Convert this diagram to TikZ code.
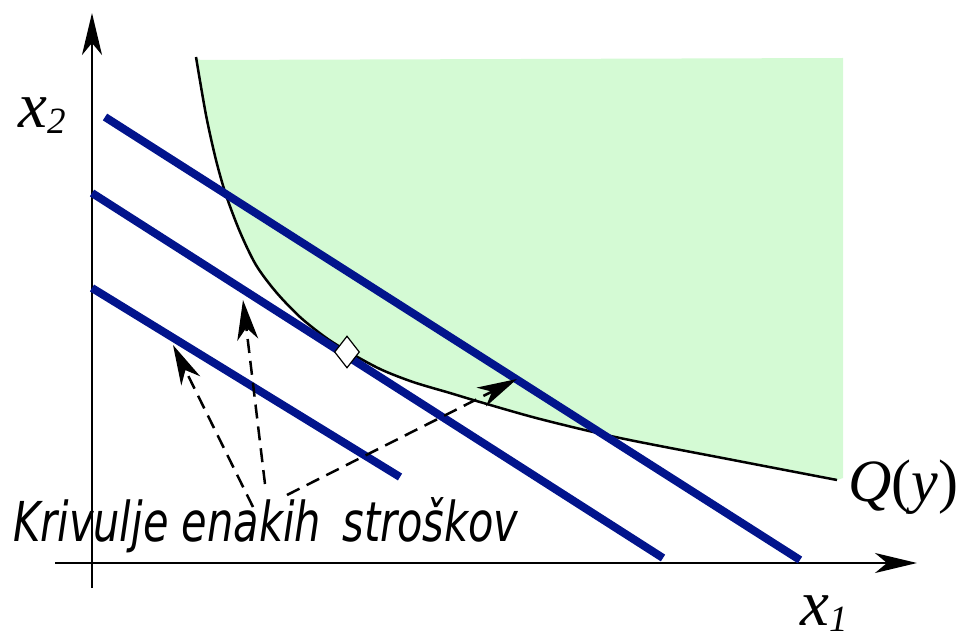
\documentclass[tikz,border=0pt]{standalone}
\usepackage{fontspec}
\setmainfont{Liberation Serif}
\newfontfamily\notefont{DejaVu Sans}
\usepackage{tikz}
\usetikzlibrary{arrows.meta, positioning, shapes.geometric}
\definecolor{costblue}{RGB}{2,20,140}
\definecolor{setgreen}{RGB}{212,250,212}
\newcommand\varsub[2]{\textit{#1}\raisebox{-6pt}{\fontsize{37}{40}\selectfont\textit{#2}}}
\newcommand\isoquant{plot[smooth] coordinates {(196,57) (206,115) (216,160) (226,195)
    (240,232) (256,265) (276,292) (300,317) (325,337) (347,351) (380,369) (413,382)
    (450,393) (480,402) (540,419) (620,438) (733,460) (837,480)}}

\begin{document}
\begin{tikzpicture}[x=1pt, y=-1pt,
    axis/.style={line width=2.5pt, -{Stealth[length=42pt, width=20pt, inset=12pt]}},
    isocost/.style={costblue, line width=8pt},
    pointer/.style={line width=2.5pt, dash pattern=on 14pt off 8pt,
        -{Stealth[length=40pt, width=21pt, inset=12pt]}},
    optimum/.style={diamond, draw, fill=white, line width=1.2pt, inner sep=0pt,
        minimum width=25pt, minimum height=32pt},
    varlabel/.style={anchor=base west, inner sep=0pt, font=\fontsize{65}{70}\selectfont},
]
    \useasboundingbox (0,0) rectangle (961,639);

    \fill[setgreen] \isoquant -- (843,478) -- (843,58) -- (200,60) -- cycle;

    \coordinate (ybot) at (92,588);
    \coordinate (ytop) at (92,13);
    \coordinate (xleft) at (55,563);
    \coordinate (xright) at (917,563);
    \draw[axis] (ybot) -- (ytop);
    \draw[axis] (xleft) -- (xright);

    \draw[line width=2.5pt] \isoquant;

    \coordinate (high a) at (105,117);
    \coordinate (high b) at (800,560);
    \coordinate (mid a) at (92,193);
    \coordinate (mid b) at (663,558);
    \coordinate (low a) at (92,288);
    \coordinate (low b) at (400,477);
    \draw[isocost] (high a) -- (high b);
    \draw[isocost] (mid a) -- (mid b);
    \draw[isocost] (low a) -- (low b);

    \node[optimum] (opt) at (347,352) {};

    \node[varlabel] (xtwo) at (18,128) {\varsub{x}{2}};
    \node[varlabel] (xone) at (800,625) {\varsub{x}{1}};
    \node[varlabel, font=\fontsize{60}{66}\selectfont] (qlabel) at (848,501) {\textit{Q}(\textit{y})};

    \node[anchor=base west, inner sep=0pt] (costlabel) at (13,541)
        {\notefont\itshape\fontsize{55}{60}\selectfont\scalebox{0.755}[1]{Krivulje enakih\hspace{11pt} stroškov}};

    \coordinate (from low) at (253,507);
    \coordinate (from mid) at (265,484);
    \coordinate (from high) at (287,495);
    \coordinate (to low) at (173,345);
    \coordinate (to mid) at (243,300);
    \coordinate (to high) at (517,379);
    \draw[pointer] (from low) -- (to low);
    \draw[pointer] (from mid) -- (to mid);
    \draw[pointer] (from high) -- (to high);
\end{tikzpicture}
\end{document}
